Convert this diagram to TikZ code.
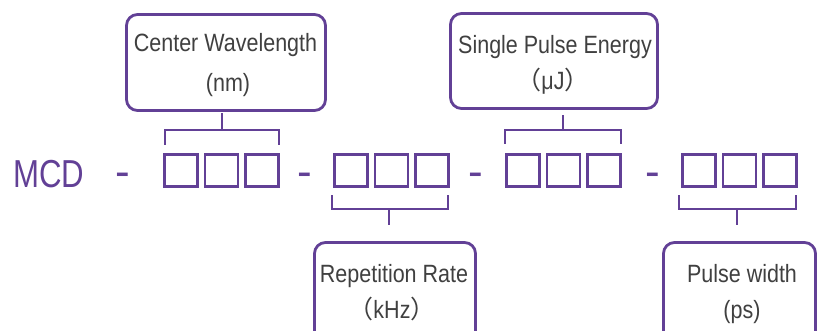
\documentclass[tikz,border=0pt]{standalone}
\usepackage{fontspec}
\setmainfont[FakeStretch=0.86]{Liberation Sans}
\newfontfamily\mcdfont[FakeStretch=0.8]{Liberation Sans}
\newfontfamily\dashfont{Liberation Sans}
\newfontfamily\cjk{Noto Sans CJK SC}
\definecolor{pur}{RGB}{98,64,150}
\definecolor{txt}{RGB}{64,64,64}
\begin{document}
\begin{tikzpicture}[x=1pt,y=-1pt,
  sq/.style={draw=pur, line width=2.8pt, minimum width=33pt, minimum height=32pt, inner sep=0pt, outer sep=0pt},
  bx/.style={draw=pur, line width=2.8pt, rounded corners=11pt, inner sep=0pt, outer sep=0pt},
  br/.style={draw=pur, line width=2.8pt},
  lbl/.style={text=txt, font=\fontsize{25}{30}\selectfont, anchor=base, inner sep=0pt},
  dsh/.style={text=pur, font=\dashfont\fontsize{44}{48}\selectfont, anchor=base, inner sep=0pt}]
\clip (0,0) rectangle (818,331);
\fill[white] (0,0) rectangle (818,331);
% MCD and dashes
\node[text=pur, font=\mcdfont\fontsize{39}{44}\selectfont, anchor=base west, inner sep=0pt] (mcd) at (13,187) {MCD};
\node[dsh] (d1) at (122.5,186) {-};
\node[dsh] (d2) at (304.5,186) {-};
\node[dsh] (d3) at (475.5,186) {-};
\node[dsh] (d4) at (652.5,186) {-};
% squares
\foreach \g/\s in {1/163,2/333,3/505,4/681}{
  \foreach \i in {0,1,2}{
    \node[sq] (s\g\i) at ({\s+18+40.5*\i},170.5) {};
  }
}
% boxes
\node[bx, minimum width=199pt, minimum height=96pt] (cw) at (226,62.5) {};
\node[bx, minimum width=207pt, minimum height=95pt] (spe) at (554,61) {};
\node[bx, minimum width=161pt, minimum height=118pt] (rr) at (395,301.5) {};
\node[bx, minimum width=152pt, minimum height=118pt] (pw) at (739.5,301.5) {};
% labels
\node[lbl] (cw1) at (225.5,52) {Center Wavelength};
\node[lbl] (cw2) at (228,92) {(nm)};
\node[lbl] (spe1) at (555,54) {Single Pulse Energy};
\node[lbl] (spe2) at (553,90) {{\cjk （}μJ{\cjk ）}};
\node[lbl] (rr1) at (394,282) {Repetition Rate};
\node[lbl] (rr2) at (392,318) {{\cjk （}kHz{\cjk ）}};
\node[lbl] (pw1) at (742,282) {Pulse width};
\node[lbl] (pw2) at (742,318) {(ps)};
% brackets
\coordinate (b1) at (222,130); \coordinate (b1l) at (165,145); \coordinate (b1r) at (279,145);
\coordinate (b3) at (563,130); \coordinate (b3l) at (505,144); \coordinate (b3r) at (621,144);
\coordinate (b2) at (389,209); \coordinate (b2l) at (332,195); \coordinate (b2r) at (448,195);
\coordinate (b4) at (737,209); \coordinate (b4l) at (679,195); \coordinate (b4r) at (796,195);
\draw[br] (b1l) |- (b1) -| (b1r);
\draw[br] (b3l) |- (b3) -| (b3r);
\draw[br] (b2l) |- (b2) -| (b2r);
\draw[br] (b4l) |- (b4) -| (b4r);
\draw[br, shorten >=3pt] (b1) -- (cw.south -| b1);
\draw[br, shorten >=7pt] (b3) -- (spe.south -| b3);
\draw[br, shorten >=18pt] (b2) -- (rr.north -| b2);
\draw[br, shorten >=18pt] (b4) -- (pw.north -| b4);
\end{tikzpicture}
\end{document}
